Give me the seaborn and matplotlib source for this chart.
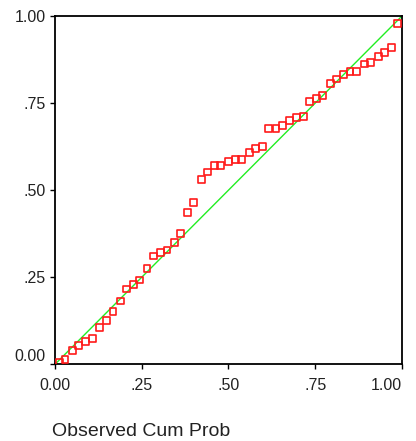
import matplotlib
matplotlib.use("Agg")
import matplotlib.pyplot as plt
import seaborn as sns

# --- DATA ---
observed_cum_prob = [
    0.012, 0.029, 0.050, 0.068, 0.089, 0.107, 0.128, 0.149, 0.167, 0.188,
    0.207, 0.227, 0.244, 0.265, 0.283, 0.305, 0.323, 0.344, 0.361, 0.382,
    0.400, 0.422, 0.439, 0.459, 0.478, 0.499, 0.520, 0.538, 0.560, 0.577,
    0.597, 0.616, 0.637, 0.655, 0.675, 0.695, 0.716, 0.733, 0.753, 0.772,
    0.793, 0.811, 0.831, 0.850, 0.870, 0.891, 0.910, 0.932, 0.949, 0.969,
    0.986,
]
expected_cum_prob = [
    0.006, 0.014, 0.039, 0.053, 0.066, 0.074, 0.105, 0.126, 0.152, 0.182,
    0.216, 0.230, 0.242, 0.276, 0.311, 0.320, 0.328, 0.349, 0.376, 0.436,
    0.465, 0.530, 0.552, 0.570, 0.570, 0.582, 0.587, 0.587, 0.608, 0.620,
    0.625, 0.676, 0.676, 0.686, 0.699, 0.708, 0.711, 0.754, 0.763, 0.771,
    0.806, 0.819, 0.831, 0.840, 0.840, 0.862, 0.867, 0.884, 0.896, 0.909,
    0.978,
]
diag = [0.0, 1.0]
tick_values = [0.0, 0.25, 0.5, 0.75, 1.0]
tick_labels = ["0.00", ".25", ".50", ".75", "1.00"]

sns.set_style("ticks")
plt.rcParams['font.family'] = ['Liberation Sans', 'DejaVu Sans']

fig = plt.figure(figsize=(4.16, 4.41), dpi=100)
ax = fig.add_axes([0.1322, 0.1739, 0.8341, 0.7898])

# reference line
sns.lineplot(x=diag, y=diag, ax=ax, color="#22ee22", linewidth=1.0)

# observed points as open squares
sns.scatterplot(x=observed_cum_prob, y=expected_cum_prob, ax=ax, marker="s",
                s=24, facecolor="none", edgecolor="#ff1a1a", linewidth=1.2,
                zorder=3)

ax.set_xlim(0, 1)
ax.set_ylim(0, 1)
ax.set_xticks(tick_values)
ax.set_xticklabels(tick_labels)
ax.set_yticks(tick_values)
ax.set_yticklabels(tick_labels)
ax.tick_params(axis="both", labelsize=11.5, length=3.5, width=1, color="black",
               labelcolor="#222222", direction="out", pad=3)
ax.tick_params(axis="x", pad=6)
ax.get_yticklabels()[0].set_va("bottom")
ax.get_xticklabels()[-1].set_ha("right")
ax.get_xticklabels()[-1].set_x(1.0)

for side in ["left", "right", "top", "bottom"]:
    ax.spines[side].set_visible(True)
    ax.spines[side].set_color("black")
    ax.spines[side].set_linewidth(1.3)

ax.set_xlabel("")
ax.set_ylabel("")

fig.text(52 / 416, 1 - 432 / 441, "Observed Cum Prob", ha="left",
         va="center", fontsize=14, color="#222222")

fig.savefig("out.png", dpi=100)
